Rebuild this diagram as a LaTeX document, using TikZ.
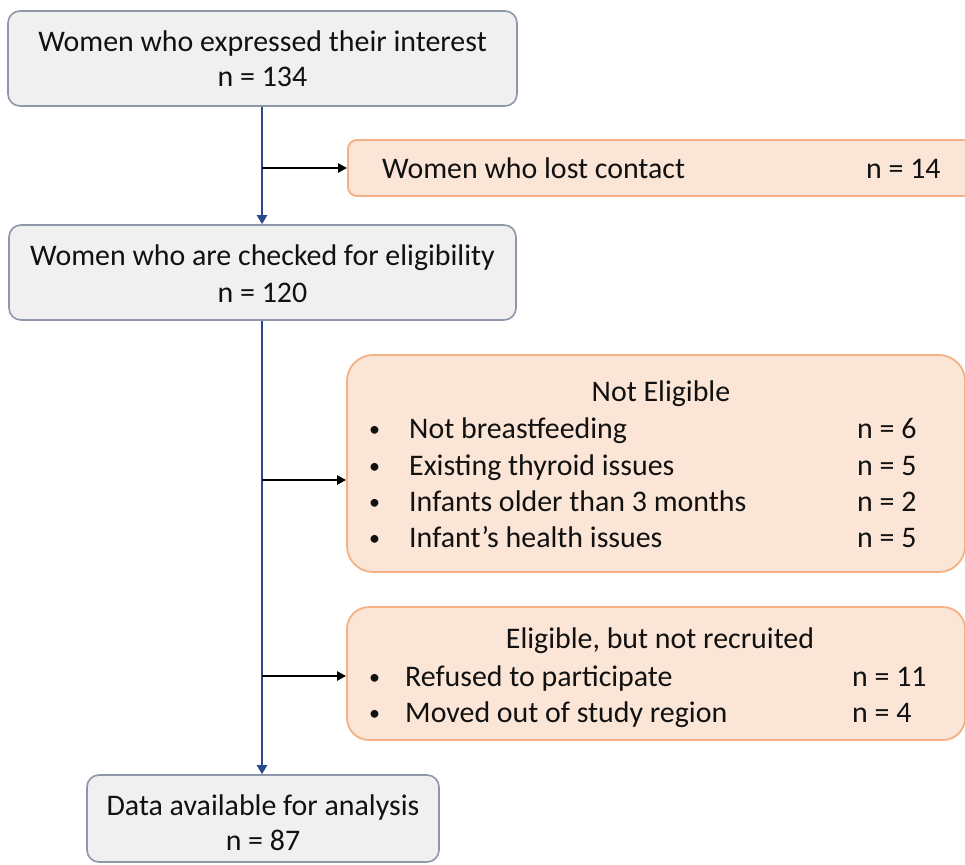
\documentclass[tikz,border=0pt]{standalone}
\usepackage{fontspec}
\setmainfont{Carlito}
\usetikzlibrary{arrows.meta}
\definecolor{grayfill}{HTML}{F0F0F0}
\definecolor{graydraw}{HTML}{8E97A8}
\definecolor{orfill}{HTML}{FBE5D6}
\definecolor{ordraw}{HTML}{F4B183}
\definecolor{trunk}{HTML}{2B4A8C}
\definecolor{txt}{HTML}{111111}
\tikzset{
  graybox/.style={draw=graydraw, fill=grayfill, line width=1.6pt, rounded corners=12pt, inner sep=0pt},
  orbox/.style={draw=ordraw, fill=orfill, line width=1.8pt, inner sep=0pt},
  txtn/.style={inner sep=0pt, text=txt, font=\fontsize{29.9}{36}\selectfont},
  bul/.style={inner sep=0pt, text=txt, font=\fontsize{22}{36}\selectfont},
  trunkline/.style={draw=trunk, line width=2.8pt},
  trunkarrow/.style={trunkline, -{Triangle[length=9pt,width=10pt]}},
  sidearrow/.style={draw=black, line width=2.4pt, -{Triangle[length=9pt,width=9pt]}}
}
\begin{document}
\begin{tikzpicture}[x=1pt,y=-1pt]
\clip (0,0) rectangle (965,864);
\fill[white] (0,0) rectangle (965,864);
% boxes
\node[graybox, minimum width=509pt, minimum height=95pt] (b1) at (262.5,58.5) {};
\node[orbox, rounded corners=9pt, minimum width=624pt, minimum height=56pt] (lost) at (660,168) {};
\node[graybox, minimum width=507pt, minimum height=95pt] (b2) at (262.5,272.5) {};
\node[orbox, rounded corners=26pt, minimum width=618pt, minimum height=217pt] (ne) at (656,463.5) {};
\node[orbox, rounded corners=22pt, minimum width=618pt, minimum height=133pt] (enr) at (656,673.5) {};
\node[graybox, minimum width=352pt, minimum height=87pt] (b3) at (263,818.5) {};
% texts box 1
\node[txtn, anchor=base] (t1a) at (262.5,52) {Women who expressed their interest};
\node[txtn, anchor=base] (t1b) at (262.5,87) {n = 134};
% lost contact
\node[txtn, anchor=base west] (tla) at (382,178) {Women who lost contact};
\node[txtn, anchor=base west] (tlb) at (866,178) {n = 14};
% box 2
\node[txtn, anchor=base] (t2a) at (262.5,265) {Women who are checked for eligibility};
\node[txtn, anchor=base] (t2b) at (262.5,302) {n = 120};
% not eligible
\node[txtn, anchor=base] (tne) at (661,401) {Not Eligible};
\foreach \yy/\lab/\nn [count=\i] in {438/Not breastfeeding/6, 475/Existing thyroid issues/5, 511/Infants older than 3 months/2, 547/Infant’s health issues/5}{
  \node[bul, anchor=base west] (neb\i) at (369,\yy-2) {•};
  \node[txtn, anchor=base west] (nel\i) at (409,\yy) {\lab};
  \node[txtn, anchor=base west] (nen\i) at (857,\yy) {n = \nn};
}
% eligible not recruited
\node[txtn, anchor=base] (tenr) at (660,648) {Eligible, but not recruited};
\foreach \yy/\lab/\nn [count=\i] in {686/Refused to participate/11, 722/Moved out of study region/4}{
  \node[bul, anchor=base west] (enb\i) at (369,\yy-2) {•};
  \node[txtn, anchor=base west] (enl\i) at (405,\yy) {\lab};
  \node[txtn, anchor=base west] (enn\i) at (852,\yy) {n = \nn};
}
% box 3
\node[txtn, anchor=base] (t3a) at (263,815) {Data available for analysis};
\node[txtn, anchor=base] (t3b) at (263,850) {n = 87};
% connectors
\coordinate (j1) at (262,168);
\coordinate (j2) at (262,480);
\coordinate (j3) at (262,676);
\draw[trunkarrow] (b1.south -| j1) -- (b2.north -| j1);
\draw[trunkarrow] (b2.south -| j1) -- (b3.north -| j1);
\draw[sidearrow] (j1) -- (j1 -| lost.west);
\draw[sidearrow] (j2) -- (j2 -| ne.west);
\draw[sidearrow] (j3) -- (j3 -| enr.west);
\end{tikzpicture}
\end{document}
